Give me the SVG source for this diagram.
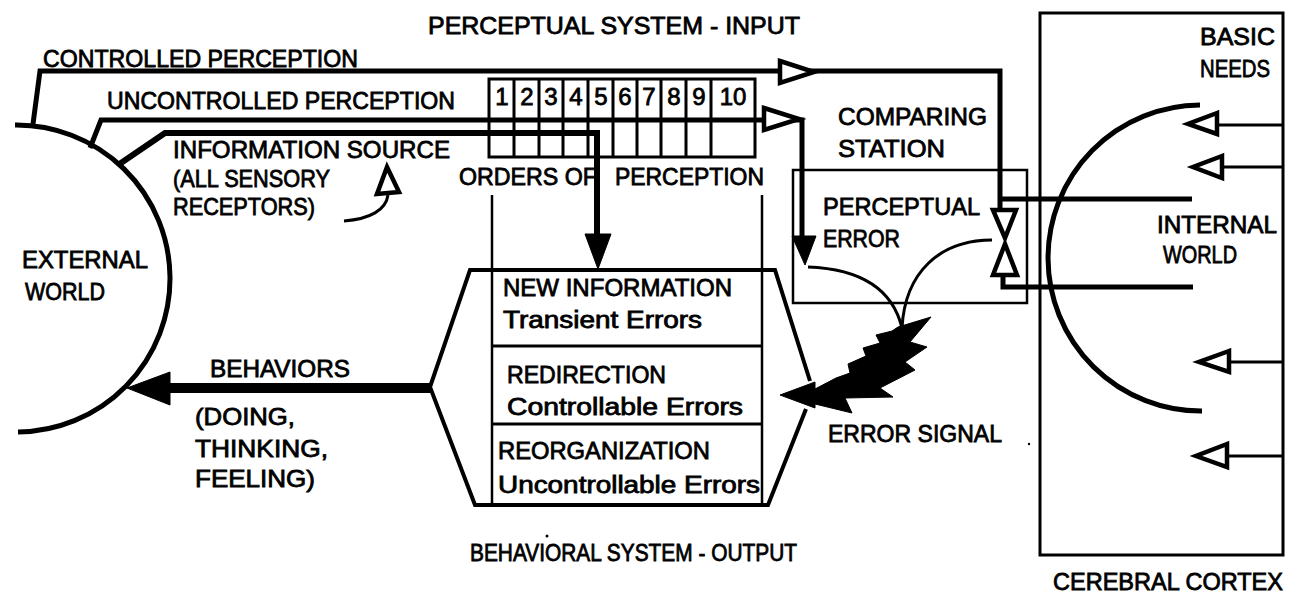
<svg xmlns="http://www.w3.org/2000/svg" width="1290" height="595" viewBox="0 0 1290 595">
  <style>
    text { font-family: "Liberation Sans", Arial, Helvetica, sans-serif; font-size: 24px; fill: #000; stroke: #000; stroke-width: 0.8; }
    .sm { font-size: 23px; }
    .line { fill: none; stroke: #000; stroke-linecap: butt; stroke-linejoin: miter; }
    .hollow { fill: #fff; stroke: #000; stroke-width: 4.5; stroke-linejoin: miter; }
    .solid { fill: #000; stroke: #000; stroke-width: 1; }
  </style>

  <!-- headings -->
  <text x="428" y="34" textLength="372" lengthAdjust="spacingAndGlyphs">PERCEPTUAL SYSTEM - INPUT</text>
  <text x="470" y="561" textLength="327" lengthAdjust="spacingAndGlyphs">BEHAVIORAL SYSTEM - OUTPUT</text>

  <!-- external world -->
  <g id="external-world">
    <path class="line" stroke-width="5" d="M15,125 A153,153 0 0 1 18,432"/>
    <text x="22" y="268" textLength="126" lengthAdjust="spacingAndGlyphs">EXTERNAL</text>
    <text x="25" y="300" textLength="80" lengthAdjust="spacingAndGlyphs">WORLD</text>
  </g>

  <!-- orders of perception grid -->
  <g id="orders-of-perception">
    <rect x="489" y="79" width="266" height="78" fill="none" stroke="#000" stroke-width="3"/>
    <path class="line" stroke-width="3" d="M514,79V157M539,79V157M563,79V157M588,79V157M613,79V157M637,79V157M661,79V157M686,79V157M711,79V157"/>
    <g text-anchor="middle">
      <text x="502" y="105">1</text>
      <text x="527" y="105">2</text>
      <text x="551" y="105">3</text>
      <text x="576" y="105">4</text>
      <text x="601" y="105">5</text>
      <text x="625" y="105">6</text>
      <text x="649" y="105">7</text>
      <text x="674" y="105">8</text>
      <text x="699" y="105">9</text>
      <text x="733" y="105">10</text>
    </g>
    <text x="459" y="185" textLength="138" lengthAdjust="spacingAndGlyphs">ORDERS OF</text>
    <text x="615" y="185" textLength="149" lengthAdjust="spacingAndGlyphs">PERCEPTION</text>
  </g>

  <!-- comparing station -->
  <g id="comparing-station">
    <text x="838" y="125" textLength="149" lengthAdjust="spacingAndGlyphs">COMPARING</text>
    <text x="838" y="157" textLength="107" lengthAdjust="spacingAndGlyphs">STATION</text>
    <rect x="793" y="170" width="234" height="133" fill="none" stroke="#000" stroke-width="2.5"/>
    <text x="823" y="215" textLength="157" lengthAdjust="spacingAndGlyphs">PERCEPTUAL</text>
    <text x="823" y="247" textLength="77" lengthAdjust="spacingAndGlyphs">ERROR</text>
    <path class="line" stroke-width="3" d="M808,267 Q888,270 902,328"/>
    <path class="line" stroke-width="3" d="M992,240 C940,240 905,272 902,328"/>
  </g>

  <!-- behavioral system -->
  <g id="behavioral-system">
    <path class="line" stroke-width="4" d="M810,381 L775,270 H470 L430,387 L475,505 H768 L806,409"/>
    <path class="line" stroke-width="2.5" d="M492,195 V505 M762,195 V505"/>
    <path class="line" stroke-width="3" d="M492,346 H762 M492,424 H762"/>
    <text x="503" y="296" textLength="229" lengthAdjust="spacingAndGlyphs">NEW INFORMATION</text>
    <text class="sm" x="503" y="328" textLength="199" lengthAdjust="spacingAndGlyphs">Transient  Errors</text>
    <text x="507" y="383" textLength="159" lengthAdjust="spacingAndGlyphs">REDIRECTION</text>
    <text class="sm" x="507" y="415" textLength="236" lengthAdjust="spacingAndGlyphs">Controllable  Errors</text>
    <text x="498" y="459" textLength="212" lengthAdjust="spacingAndGlyphs">REORGANIZATION</text>
    <text class="sm" x="498" y="493" textLength="262" lengthAdjust="spacingAndGlyphs">Uncontrollable  Errors</text>
  </g>

  <!-- cerebral cortex -->
  <g id="cerebral-cortex">
    <rect x="1040" y="13" width="243" height="542" fill="none" stroke="#000" stroke-width="3"/>
    <text x="1200" y="45" textLength="75" lengthAdjust="spacingAndGlyphs">BASIC</text>
    <text x="1200" y="77" textLength="70" lengthAdjust="spacingAndGlyphs">NEEDS</text>
    <text x="1053" y="590" textLength="230" lengthAdjust="spacingAndGlyphs">CEREBRAL CORTEX</text>
  </g>

  <!-- internal world -->
  <g id="internal-world">
    <path class="line" stroke-width="5" d="M1200,105 A153,153 0 0 0 1202,411"/>
    <text x="1157" y="233" textLength="120" lengthAdjust="spacingAndGlyphs">INTERNAL</text>
    <text x="1163" y="263" textLength="74" lengthAdjust="spacingAndGlyphs">WORLD</text>
  </g>

  <!-- text labels on connectors -->
  <g id="labels">
    <text x="43" y="67" textLength="315" lengthAdjust="spacingAndGlyphs">CONTROLLED PERCEPTION</text>
    <text x="107" y="109" textLength="348" lengthAdjust="spacingAndGlyphs">UNCONTROLLED PERCEPTION</text>
    <text x="173" y="158" textLength="277" lengthAdjust="spacingAndGlyphs">INFORMATION  SOURCE</text>
    <text x="173" y="187" textLength="157" lengthAdjust="spacingAndGlyphs">(ALL SENSORY</text>
    <text x="173" y="215" textLength="142" lengthAdjust="spacingAndGlyphs">RECEPTORS)</text>
    <text x="210" y="377" textLength="140" lengthAdjust="spacingAndGlyphs">BEHAVIORS</text>
    <text x="195" y="425" textLength="100" lengthAdjust="spacingAndGlyphs">(DOING,</text>
    <text x="195" y="457" textLength="133" lengthAdjust="spacingAndGlyphs">THINKING,</text>
    <text x="195" y="487" textLength="120" lengthAdjust="spacingAndGlyphs">FEELING)</text>
    <text x="828" y="442" textLength="174" lengthAdjust="spacingAndGlyphs">ERROR SIGNAL</text>
  </g>

  <!-- connectors -->
  <g id="connectors">
    <!-- controlled perception: external world to comparing station -->
    <path class="line" stroke-width="5" d="M33,124 L40,71 H1000 V208"/>
    <polygon class="hollow" points="780,61 814,72 780,83"/>
    <!-- uncontrolled perception -->
    <path class="line" stroke-width="5" d="M90,148 L101,120 H802 V238"/>
    <polygon class="hollow" points="764,108 799,119 764,130"/>
    <polygon class="solid" points="792,236 816,236 805,265"/>
    <!-- information source -->
    <path class="line" stroke-width="6" d="M118,165 L165,133 H597 V236"/>
    <polygon class="solid" points="585,234 611,234 598,269"/>
    <!-- receptors pointer -->
    <path class="line" stroke-width="3" d="M344,221 C370,219 386,210 388,195"/>
    <polygon class="hollow" points="387,167 377,194 399,192"/>
    <!-- reference signals from internal world -->
    <path class="line" stroke-width="5" d="M1192,199 H1000"/>
    <path class="line" stroke-width="5" d="M1193,287 H1003 V276"/>
    <polygon class="hollow" points="993,210 1016,210 1005,238"/>
    <polygon class="hollow" points="993,275 1017,275 1005,244"/>
    <!-- basic needs inputs -->
    <path class="line" stroke-width="3" d="M1283,125 H1217 M1283,167 H1222 M1283,362 H1229 M1283,456 H1227"/>
    <polygon class="hollow" points="1217,113 1188,124 1217,134"/>
    <polygon class="hollow" points="1222,156 1193,167 1222,178"/>
    <polygon class="hollow" points="1229,351 1199,362 1229,372"/>
    <polygon class="hollow" points="1227,444 1196,456 1227,467"/>
    <!-- behaviors output -->
    <path class="line" stroke-width="10" d="M430,388 H168"/>
    <polygon class="solid" points="127,388 170,372 170,405"/>
    <!-- error signal bolt -->
    <polygon class="solid" points="898,327 931,317 910,342 927,347 905,362 915,370 880,388 893,397 845,398 852,413 815,404 815,408 780,395 815,382 815,389 836,378 850,373 848,364 866,356 863,348 880,343 876,335 892,331"/>
    <!-- specks -->
    <circle cx="547" cy="536" r="1.5" fill="#000"/>
    <circle cx="1029" cy="444" r="1.2" fill="#000"/>
  </g>
</svg>
